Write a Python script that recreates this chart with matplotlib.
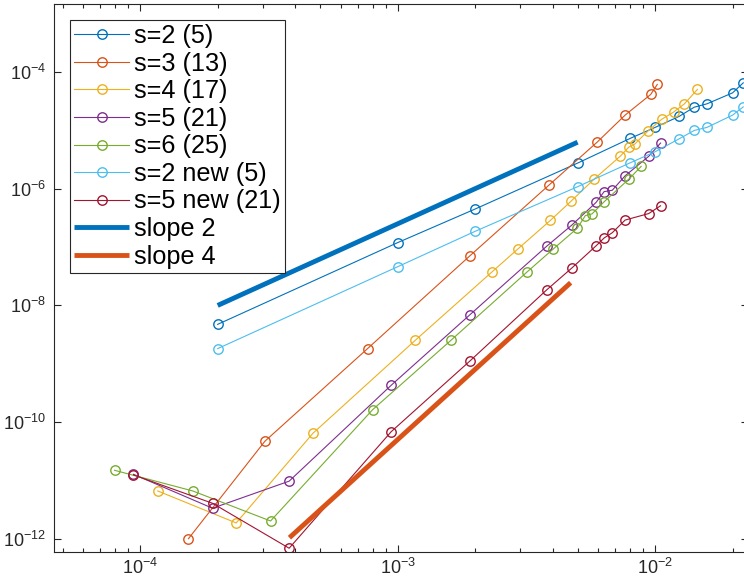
import numpy as np
import matplotlib
matplotlib.use('Agg')
import matplotlib.pyplot as plt
from matplotlib.ticker import LogLocator, NullFormatter, FixedLocator

plt.rcParams['font.family'] = ['Liberation Sans', 'DejaVu Sans']
plt.rcParams['mathtext.fontset'] = 'custom'
plt.rcParams['mathtext.rm'] = 'Liberation Sans'
plt.rcParams['mathtext.it'] = 'Liberation Sans'

# valores
h_s2 = [2e-4, 1e-3, 2e-3, 5e-3, 8e-3, 1e-2, 1.24e-2, 1.42e-2, 1.59e-2, 2e-2, 2.2e-2]
err_s2 = [4.74e-9, 1.19e-7, 4.48e-7, 2.74e-6, 7.26e-6, 1.12e-5, 1.73e-5, 2.49e-5, 2.84e-5, 4.38e-5, 6.5e-5]
err_s2_new = [1.82e-9, 4.6e-8, 1.86e-7, 1.08e-6, 2.77e-6, 4.29e-6, 7.14e-6, 9.95e-6, 1.12e-5, 1.82e-5, 2.52e-5]

h_s3 = [1.54e-4, 3.05e-4, 7.64e-4, 1.91e-3, 3.87e-3, 5.96e-3, 7.67e-3, 9.62e-3, 1.02e-2]
err_s3 = [1.01e-12, 4.71e-11, 1.82e-9, 7.1e-8, 1.15e-6, 6.28e-6, 1.84e-5, 4.12e-5, 6.11e-5]

h_s4 = [1.17e-4, 2.36e-4, 4.69e-4, 1.17e-3, 2.33e-3, 2.93e-3, 3.92e-3, 4.71e-3, 5.80e-3,
        7.33e-3, 7.91e-3, 8.34e-3, 9.40e-3, 1.06e-2, 1.18e-2, 1.30e-2, 1.46e-2]
err_s4 = [6.64e-12, 1.88e-12, 6.46e-11, 2.52e-9, 3.78e-8, 9.25e-8, 2.86e-7, 6.07e-7, 1.46e-6,
          3.61e-6, 5.15e-6, 5.81e-6, 9.8e-6, 1.54e-5, 2.05e-5, 2.84e-5, 5.01e-5]

h_s5 = [9.42e-5, 1.91e-4, 3.79e-4, 9.44e-4, 1.91e-3, 3.79e-3, 4.74e-3, 5.9e-3, 6.34e-3,
        6.82e-3, 7.65e-3, 9.45e-3, 1.05e-2]
err_s5 = [1.28e-11, 3.36e-12, 9.77e-12, 4.29e-10, 6.94e-9, 1.03e-7, 2.36e-7, 5.82e-7, 8.9e-7,
          9.4e-7, 1.66e-6, 3.59e-6, 6.04e-6]
err_s5_new = [1.25e-11, 4.08e-12, 6.93e-13, 6.87e-11, 1.12e-9, 1.84e-8, 4.34e-8, 1.05e-7, 1.43e-7,
              1.76e-7, 2.90e-7, 3.75e-7, 5.09e-7]

h_s6 = [7.95e-5, 1.60e-4, 3.21e-4, 8.0e-4, 1.61e-3, 3.19e-3, 4.02e-3, 4.98e-3, 5.36e-3,
        5.69e-3, 6.35e-3, 7.94e-3, 8.83e-3]
err_s6 = [1.50e-11, 6.64e-12, 2.03e-12, 1.64e-10, 2.52e-9, 3.78e-8, 9.25e-8, 2.09e-7, 3.46e-7,
          3.70e-7, 6.01e-7, 1.48e-6, 2.41e-6]

slope2_h = [2e-4, 5e-3]
slope2_err = [1e-8, 6.25e-6]
slope4_h = [3.8e-4, 4.7e-3]
slope4_err = [1.05e-12, 2.45e-8]

series = [
    (h_s2, err_s2, 's=2 (5)', '#0072BD'),
    (h_s3, err_s3, 's=3 (13)', '#D95319'),
    (h_s4, err_s4, 's=4 (17)', '#EDB120'),
    (h_s5, err_s5, 's=5 (21)', '#7E2F8E'),
    (h_s6, err_s6, 's=6 (25)', '#77AC30'),
    (h_s2, err_s2_new, 's=2 new (5)', '#4DBEEE'),
    (h_s5, err_s5_new, 's=5 new (21)', '#A2142F'),
]

fig = plt.figure(figsize=(7.44, 5.8), dpi=100)
ax = fig.add_axes([0.073, 0.0478, 0.9324, 0.9448])

for h, e, nome, cor in series:
    ax.loglog(h, e, '-o', color=cor, lw=0.8, ms=6.8, mfc='none', mew=1.0, label=nome)

ax.loglog(slope2_h, slope2_err, color='#0072BD', lw=3.5, label='slope 2', solid_capstyle='butt')
ax.loglog(slope4_h, slope4_err, color='#D95319', lw=3.5, label='slope 4', solid_capstyle='butt')

ax.set_xlim(4.64e-5, 0.02296)
ax.set_ylim(5.91e-13, 1.44e-3)

ax.xaxis.set_major_locator(FixedLocator([1e-4, 1e-3, 1e-2]))
ax.xaxis.set_minor_locator(LogLocator(base=10, subs=np.arange(2, 10)))
ax.xaxis.set_minor_formatter(NullFormatter())
ax.yaxis.set_major_locator(FixedLocator([1e-12, 1e-10, 1e-8, 1e-6, 1e-4]))
ax.yaxis.set_minor_locator(FixedLocator([]))

for s in ax.spines.values():
    s.set_color('#262626')
    s.set_linewidth(0.8)
ax.tick_params(which='both', direction='in', top=True, right=True, colors='#262626',
               labelcolor='#262626', labelsize=13, width=0.8)
ax.tick_params(which='major', length=5)
ax.tick_params(which='minor', length=3)
ax.tick_params(axis='y', pad=6)
ax.tick_params(axis='x', pad=4)

leg = ax.legend(loc='upper left', bbox_to_anchor=(0.0226, 0.9714), borderaxespad=0,
                fontsize=18.2, fancybox=False, framealpha=1, edgecolor='#262626',
                handlelength=2.16, handletextpad=0.2, labelspacing=0.14, borderpad=0.17)
leg.get_frame().set_linewidth(0.8)

fig.savefig('out.png', dpi=100)
